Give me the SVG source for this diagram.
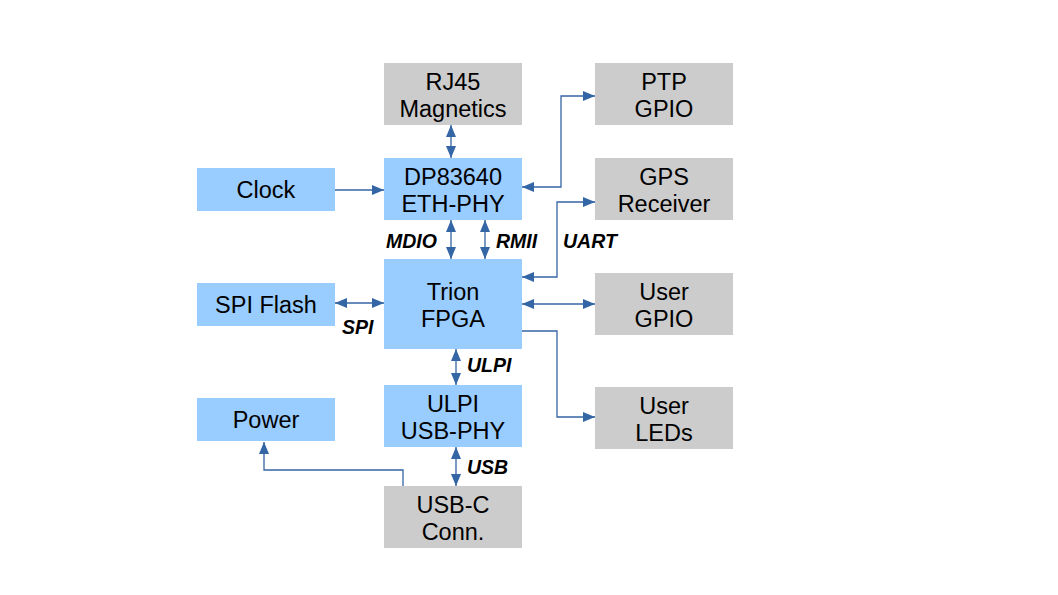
<svg xmlns="http://www.w3.org/2000/svg" width="1058" height="595" viewBox="0 0 1058 595">
<style>
.blue{fill:#99ccff}
.gray{fill:#cccccc}
.t{font-family:"Liberation Sans",Arial,sans-serif;font-size:23.5px;fill:#000;text-anchor:middle}
.l{font-family:"Liberation Sans",Arial,sans-serif;font-size:19.5px;font-weight:bold;font-style:italic;fill:#000}
.c{fill:none;stroke:#3465a4;stroke-width:1.3}
</style>
<defs>
<marker id="a" markerUnits="userSpaceOnUse" markerWidth="12" markerHeight="10" refX="12" refY="5" orient="auto-start-reverse" viewBox="0 0 12 10">
<path d="M0,0 L12,5 L0,10 z" fill="#3465a4"/>
</marker>
</defs>
<rect width="1058" height="595" fill="#fff"/>
<g id="rj45"><rect class="gray" x="384" y="63" width="138" height="62"/><text class="t" x="453" y="90">RJ45</text><text class="t" x="453" y="117">Magnetics</text></g>
<g id="ptp"><rect class="gray" x="595" y="63" width="138" height="62"/><text class="t" x="664" y="90">PTP</text><text class="t" x="664" y="117">GPIO</text></g>
<g id="clock"><rect class="blue" x="197" y="168" width="138" height="43"/><text class="t" x="266" y="198">Clock</text></g>
<g id="phy"><rect class="blue" x="384" y="158" width="138" height="62"/><text class="t" x="453" y="185">DP83640</text><text class="t" x="453" y="212">ETH-PHY</text></g>
<g id="gps"><rect class="gray" x="595" y="158" width="138" height="62"/><text class="t" x="664" y="185">GPS</text><text class="t" x="664" y="212">Receiver</text></g>
<g id="spiflash"><rect class="blue" x="197" y="283" width="138" height="43"/><text class="t" x="266" y="313">SPI Flash</text></g>
<g id="fpga"><rect class="blue" x="384" y="259" width="138" height="90"/><text class="t" x="453" y="300">Trion</text><text class="t" x="453" y="327">FPGA</text></g>
<g id="usergpio"><rect class="gray" x="595" y="273" width="138" height="62"/><text class="t" x="664" y="300">User</text><text class="t" x="664" y="327">GPIO</text></g>
<g id="power"><rect class="blue" x="197" y="398" width="138" height="43"/><text class="t" x="266" y="428">Power</text></g>
<g id="usbphy"><rect class="blue" x="384" y="385" width="138" height="62"/><text class="t" x="453" y="412">ULPI</text><text class="t" x="453" y="439">USB-PHY</text></g>
<g id="leds"><rect class="gray" x="595" y="387" width="138" height="62"/><text class="t" x="664" y="414">User</text><text class="t" x="664" y="441">LEDs</text></g>
<g id="usbc"><rect class="gray" x="384" y="486" width="138" height="62"/><text class="t" x="453" y="513">USB-C</text><text class="t" x="453" y="540">Conn.</text></g>
<g id="connectors">
<path class="c" d="M451,125 V158" marker-start="url(#a)" marker-end="url(#a)"/>
<path class="c" d="M335,190 H384" marker-end="url(#a)"/>
<path class="c" d="M522,187 H561 V96 H595" marker-start="url(#a)" marker-end="url(#a)"/>
<path class="c" d="M522,277 H557 V202 H595" marker-start="url(#a)" marker-end="url(#a)"/>
<path class="c" d="M451,220 V259" marker-start="url(#a)" marker-end="url(#a)"/>
<path class="c" d="M485,220 V259" marker-start="url(#a)" marker-end="url(#a)"/>
<path class="c" d="M335,303 H384" marker-start="url(#a)" marker-end="url(#a)"/>
<path class="c" d="M522,304 H595" marker-start="url(#a)" marker-end="url(#a)"/>
<path class="c" d="M522,331 H557 V417 H595" marker-end="url(#a)"/>
<path class="c" d="M456,349 V385" marker-start="url(#a)" marker-end="url(#a)"/>
<path class="c" d="M456,447 V486" marker-start="url(#a)" marker-end="url(#a)"/>
<path class="c" d="M403,486 V470 H264 V442" marker-end="url(#a)"/>
</g>
<g id="labels">
<text class="l" x="386" y="248">MDIO</text>
<text class="l" x="496" y="248">RMII</text>
<text class="l" x="563" y="248">UART</text>
<text class="l" x="342" y="334">SPI</text>
<text class="l" x="467" y="372">ULPI</text>
<text class="l" x="467" y="474">USB</text>
</g>
</svg>
